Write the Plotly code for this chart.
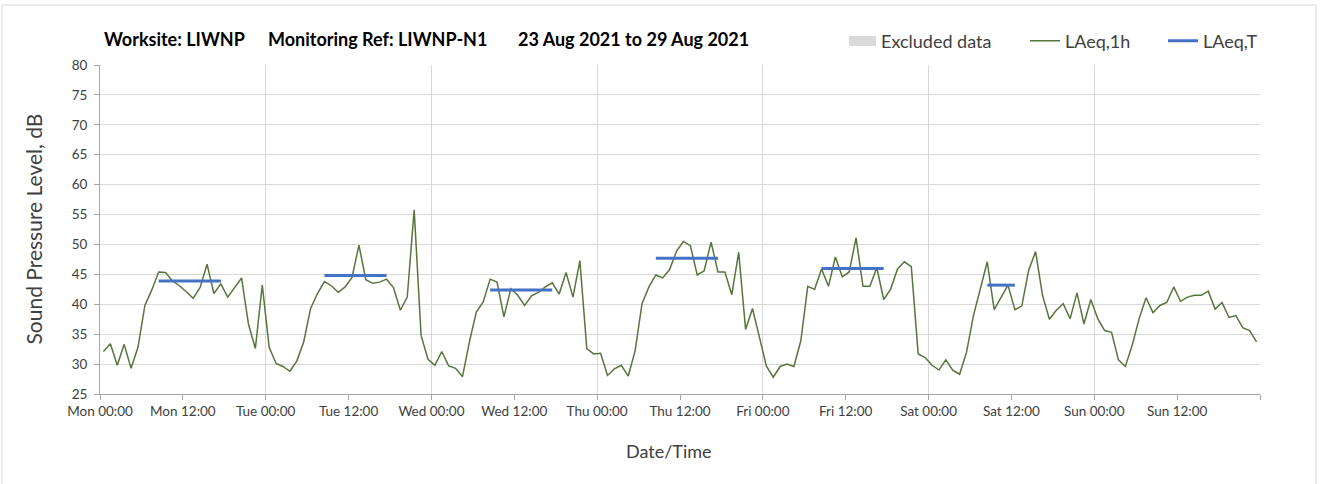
import numpy as np
import plotly.graph_objects as go

# ---------------- data ----------------
day_labels = ["Mon", "Tue", "Wed", "Thu", "Fri", "Sat", "Sun"]
tick_times = ["00:00", "12:00"]

# Hourly LAeq,1h values (dB), Mon 00:00 .. Sun 23:00
laeq_mon = [32.1, 33.4, 29.8, 33.3, 29.3, 32.8, 39.8, 42.4, 45.4, 45.3, 43.9, 43.1,
            42.1, 41.0, 42.8, 46.7, 41.8, 43.4, 41.2, 42.8, 44.4, 36.7, 32.6, 43.2]
laeq_tue = [32.8, 30.1, 29.6, 28.8, 30.5, 33.7, 39.3, 41.8, 43.8, 43.1, 42.0, 42.9,
            44.5, 49.9, 44.1, 43.5, 43.7, 44.2, 42.8, 39.0, 41.2, 55.8, 34.8, 30.8]
laeq_wed = [29.8, 32.1, 29.7, 29.3, 27.9, 33.7, 38.7, 40.4, 44.2, 43.7, 37.9, 42.6,
            41.5, 39.8, 41.4, 42.0, 42.9, 43.6, 41.7, 45.3, 41.2, 47.3, 32.6, 31.7]
laeq_thu = [31.8, 28.1, 29.2, 29.8, 28.0, 32.2, 40.1, 42.9, 44.9, 44.4, 45.8, 48.9,
            50.5, 49.8, 44.9, 45.6, 50.4, 45.4, 45.4, 41.6, 48.7, 35.8, 39.3, 34.5]
laeq_fri = [29.7, 27.8, 29.6, 30.0, 29.6, 33.9, 43.0, 42.5, 45.9, 43.0, 47.9, 44.6,
            45.4, 51.1, 43.0, 43.0, 46.1, 40.8, 42.5, 45.9, 47.1, 46.3, 31.7, 31.1]
laeq_sat = [29.8, 29.0, 30.7, 29.0, 28.3, 32.0, 38.1, 42.6, 47.1, 39.1, 41.2, 43.2,
            39.1, 39.7, 45.7, 48.8, 41.5, 37.5, 39.0, 40.1, 37.6, 41.9, 36.7, 40.8]
laeq_sun = [37.6, 35.6, 35.3, 30.7, 29.6, 33.2, 37.6, 41.1, 38.6, 39.8, 40.3, 42.9,
            40.5, 41.2, 41.5, 41.5, 42.2, 39.2, 40.3, 37.8, 38.1, 36.1, 35.6, 33.7]

# LAeq,T per day and the hours it covers (None = no daytime period)
laeq_t_values = [43.9, 44.8, 42.4, 47.7, 46.0, 43.2, None]
laeq_t_start_hour = [8, 8, 8, 8, 8, 8, None]
laeq_t_end_hour = [17, 17, 17, 17, 17, 12, None]

# Excluded data periods (none in this week)
excluded_start = []
excluded_end = []

# ---------------- build series ----------------
laeq_1h = laeq_mon + laeq_tue + laeq_wed + laeq_thu + laeq_fri + laeq_sat + laeq_sun
n_hours = len(laeq_1h)
x_hour = np.arange(n_hours) + 0.5  # centre of each hourly interval

xt, yt = [], []
for d, v in enumerate(laeq_t_values):
    if v is None:
        continue
    for h in range(laeq_t_start_hour[d], laeq_t_end_hour[d] + 1):
        xt.append(d * 24 + h + 0.5)
        yt.append(v)
    xt.append(None)
    yt.append(None)

tickvals = list(range(0, n_hours + 1, 12))
ticktext = [f"{day_labels[t // 24]} {tick_times[(t % 24) // 12]}" if t < n_hours else "" for t in tickvals]

FONT = "Lato"
GREEN = "#56763c"
BLUE = "#4472c4"
EXCL = "#d9d9d9"

fig = go.Figure()
# excluded periods drawn as grey columns (none this week)
for s, e in zip(excluded_start, excluded_end):
    fig.add_vrect(x0=s, x1=e, fillcolor=EXCL, line_width=0, layer="below")

fig.add_trace(go.Scatter(x=x_hour, y=laeq_1h, mode="lines", name="LAeq,1h",
                         line=dict(color=GREEN, width=1.5), legend="legend", showlegend=True))
fig.add_trace(go.Scatter(x=xt, y=yt, mode="lines", name="LAeq,T",
                         line=dict(color=BLUE, width=3), legend="legend2", showlegend=True,
                         connectgaps=False))

L, R, T, B = 100, 1260, 65, 394
W, H = 1321, 484


def px_x(p):
    return (p - L) / (R - L)


def px_y(p):
    return (B - p) / (B - T)


leg_common = dict(orientation="h", yanchor="middle", xanchor="left",
                  bgcolor="rgba(0,0,0,0)", borderwidth=0,
                  font=dict(family=FONT, size=18, color="#404040"))

fig.update_layout(
    width=W, height=H,
    showlegend=True,
    margin=dict(l=L, r=W - R, t=T, b=H - B, pad=0),
    paper_bgcolor="white", plot_bgcolor="white",
    font=dict(family=FONT, color="#595959"),
    legend=dict(x=px_x(1025), y=px_y(41), **leg_common),
    legend2=dict(x=px_x(1163), y=px_y(41), **leg_common),
    xaxis=dict(
        range=[0, n_hours], tickmode="array", tickvals=tickvals, ticktext=ticktext,
        showgrid=False, zeroline=False, showline=True, linecolor="#a6a6a6", linewidth=1,
        ticks="outside", ticklen=5, tickcolor="#a6a6a6",
        tickfont=dict(family=FONT, size=13.5, color="#404040"),
        minor=dict(tickmode="linear", tick0=0, dtick=24, showgrid=True,
                   gridcolor="#d9d9d9", gridwidth=1, ticks=""),
    ),
    yaxis=dict(
        range=[25, 80], dtick=5, tick0=25, showgrid=True, gridcolor="#d9d9d9", gridwidth=1,
        zeroline=False, showline=True, linecolor="#a6a6a6", linewidth=1,
        ticks="outside", ticklen=5, tickcolor="#a6a6a6", ticklabelstandoff=4,
        tickfont=dict(family=FONT, size=13.5, color="#404040"),
    ),
    shapes=[
        dict(type="rect", xref="paper", yref="paper",
             x0=px_x(2), x1=px_x(1316), y0=px_y(490), y1=px_y(5),
             line=dict(color="#d9d9d9", width=1), fillcolor="rgba(0,0,0,0)", layer="below"),
        # legend swatch for "Excluded data"
        dict(type="rect", xref="paper", yref="paper",
             x0=px_x(849), x1=px_x(876), y0=px_y(46), y1=px_y(36),
             line=dict(width=0), fillcolor=EXCL),
    ],
)

# legend text for excluded data
fig.add_annotation(text="Excluded data", xref="paper", yref="paper",
                   x=px_x(879), y=px_y(41), xanchor="left", yanchor="middle",
                   showarrow=False, font=dict(family=FONT, size=18, color="#404040"))

# axis titles
fig.add_annotation(text="Date/Time", xref="paper", yref="paper",
                   x=px_x(669), y=px_y(451), xanchor="center", yanchor="middle",
                   showarrow=False, font=dict(family=FONT, size=18, color="#404040"))
fig.add_annotation(text="Sound Pressure Level, dB", xref="paper", yref="paper",
                   x=px_x(33), y=0.5, xanchor="center", yanchor="middle", textangle=-90,
                   showarrow=False, font=dict(family=FONT, size=21, color="#404040"))

title_parts = ["Worksite: LIWNP", "Monitoring Ref: LIWNP-N1", "23 Aug 2021 to 29 Aug 2021"]
title_px = [102, 266, 516]
for txt, p in zip(title_parts, title_px):
    fig.add_annotation(text=f"<b>{txt}</b>", xref="paper", yref="paper",
                       x=px_x(p), y=px_y(39), xanchor="left", yanchor="middle",
                       showarrow=False, font=dict(family=FONT, size=18, color="#000000"))

fig.write_html("out.html", config={"displayModeBar": False},
               post_script="document.body.style.margin='0px';")
